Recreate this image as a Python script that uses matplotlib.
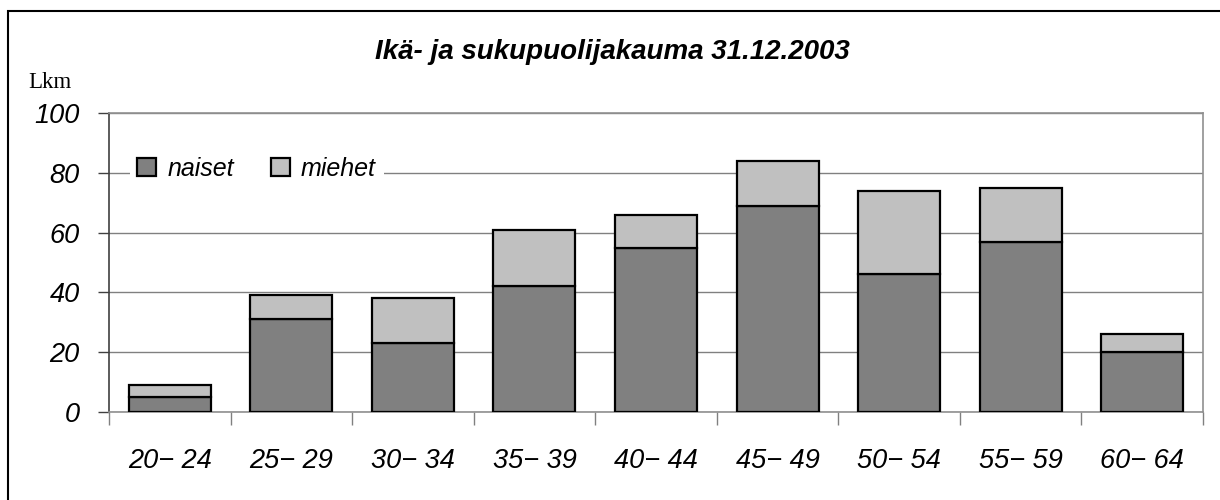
import matplotlib
matplotlib.use("Agg")
import matplotlib.pyplot as plt
from matplotlib.patches import Rectangle
import numpy as np

categories = ["20− 24", "25− 29", "30− 34", "35− 39", "40− 44", "45− 49", "50− 54", "55− 59", "60− 64"]
naiset = [5, 31, 23, 42, 55, 69, 46, 57, 20]
miehet = [4, 8, 15, 19, 11, 15, 28, 18, 6]
yticks = [0, 20, 40, 60, 80, 100]

plt.rcParams['font.family'] = ['Liberation Sans', 'DejaVu Sans']

W, H = 1220, 500
fig = plt.figure(figsize=(W/100, H/100), dpi=100)
ax = fig.add_axes([109/W, 1-412/H, (1203-109)/W, (412-113)/H])

x = np.arange(len(categories))
bw = 0.675
ax.bar(x, naiset, width=bw, color="#808080", edgecolor="black", linewidth=1.6, label="naiset", zorder=3)
ax.bar(x, miehet, bottom=naiset, width=bw, color="#c0c0c0", edgecolor="black", linewidth=1.6, label="miehet", zorder=3)

ax.set_xlim(-0.5, len(categories)-0.5)
ax.set_ylim(0, 100)
ax.set_yticks(yticks)
ax.set_yticklabels([str(v) for v in yticks], fontsize=19.5, style='italic')
ax.yaxis.grid(True, color="#808080", linewidth=1, zorder=0)
ax.set_axisbelow(True)

ax.set_xticks(x)
ax.set_xticklabels(categories, fontsize=19.5, style='italic')
ax.set_xticks(np.arange(len(categories)+1)-0.5, minor=True)
ax.tick_params(axis='x', which='major', length=0, pad=26)
ax.tick_params(axis='x', which='minor', length=9, width=1, color="#808080", direction='out')
ax.tick_params(axis='y', length=8, width=1, color="#404040", direction='out', pad=13)

for s in ['top', 'right', 'bottom']:
    ax.spines[s].set_color("#909090")
    ax.spines[s].set_linewidth(1.2)
ax.spines['left'].set_color("#404040")
ax.spines['left'].set_linewidth(1.2)

leg = ax.legend(loc='center', bbox_to_anchor=(0.135, 0.813), ncol=2, frameon=True,
                prop={'size': 18, 'style': 'italic'}, handlelength=0.76, handleheight=0.76,
                handletextpad=0.44, columnspacing=1.48, borderpad=0.3, fancybox=False)
leg.get_frame().set_facecolor('white')
leg.get_frame().set_edgecolor('none')
leg.get_frame().set_alpha(1)

fig.text(612/W, 1-52/H, "Ikä- ja sukupuolijakauma 31.12.2003", ha='center', va='center',
         fontsize=20, fontweight='bold', style='italic')
fig.text(28/W, 1-83/H, "Lkm", ha='left', va='center', fontsize=16.5, family='Liberation Serif')

fig.add_artist(Rectangle((8/W, -0.1), 1.2, 1 - 11/H + 0.1, transform=fig.transFigure,
                         fill=False, edgecolor='black', linewidth=1.5))

fig.savefig("out.png", dpi=100)
